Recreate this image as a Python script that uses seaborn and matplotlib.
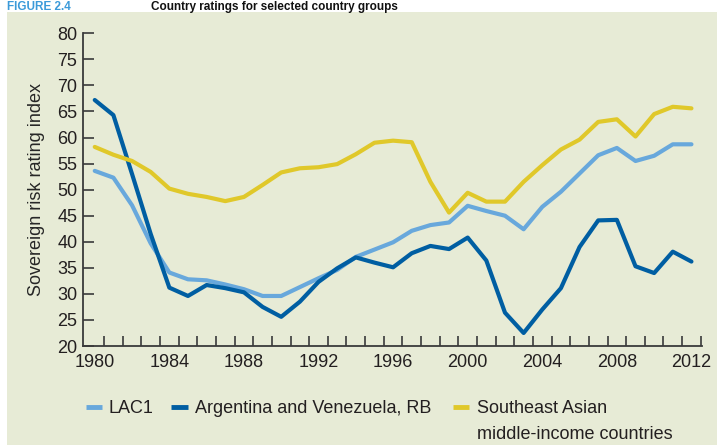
import numpy as np
import pandas as pd
import matplotlib
matplotlib.use("Agg")
import matplotlib.pyplot as plt
from matplotlib.lines import Line2D
from matplotlib.patches import Rectangle
import seaborn as sns

years = list(range(1980, 2013))

lac1 = [53.6, 52.3, 47.0, 39.7, 34.1, 32.8, 32.6, 31.8, 30.9, 29.6, 29.6,
        31.3, 33.0, 34.6, 37.1, 38.5, 39.9, 42.1, 43.2, 43.7, 46.9, 45.9,
        45.0, 42.4, 46.7, 49.6, 53.1, 56.6, 58.0, 55.5, 56.5, 58.7, 58.7]

arg_ven = [67.2, 64.3, 53.0, 41.5, 31.2, 29.6, 31.7, 31.1, 30.3, 27.5, 25.6,
           28.5, 32.3, 34.9, 37.0, 36.0, 35.1, 37.8, 39.2, 38.6, 40.8, 36.4,
           26.4, 22.5, 27.0, 31.1, 39.0, 44.1, 44.2, 35.3, 34.0, 38.1, 36.2]

se_asia = [58.2, 56.7, 55.5, 53.4, 50.2, 49.2, 48.6, 47.8, 48.6, 50.9, 53.3,
           54.1, 54.3, 54.9, 56.8, 59.0, 59.4, 59.1, 51.5, 45.6, 49.4, 47.7,
           47.7, 51.5, 54.7, 57.7, 59.6, 63.0, 63.5, 60.2, 64.5, 65.9, 65.6]

series_names = ["LAC1", "Argentina and Venezuela, RB",
                "Southeast Asian\nmiddle-income countries"]
colors = ["#68A8DC", "#005EA2", "#E0C82A"]
bg = "#E7EBD6"

df = pd.DataFrame({"year": years * 3,
                   "value": lac1 + arg_ven + se_asia,
                   "series": [series_names[0]] * 33 + [series_names[1]] * 33 + [series_names[2]] * 33})

sns.set_theme(style="ticks")
plt.rcParams["font.family"] = ["Liberation Sans", "DejaVu Sans"]
plt.rcParams["text.color"] = "#231F20"

fig = plt.figure(figsize=(7.17, 4.48), dpi=100)
fig.patch.set_facecolor("white")
# beige panel behind the chart
fig.add_artist(Rectangle((7 / 717, 1 - 445 / 448), 1 - 7 / 717, (445 - 12) / 448,
                         transform=fig.transFigure, facecolor=bg, edgecolor="none", zorder=-10))

ax = fig.add_axes([83 / 717, 1 - 346 / 448, (701.7 - 83) / 717, (346 - 33.3) / 448])
ax.set_facecolor("none")

sns.lineplot(data=df, x="year", y="value", hue="series", palette=colors,
             linewidth=3, legend=False, ax=ax)

ax.set_xlim(1979.37, 2012.55)
ax.set_ylim(20, 80)
ax.set_yticks(range(20, 81, 5))
ax.set_xticks(range(1980, 2013, 4))
ax.set_xticks(np.arange(1980.5, 2013, 1), minor=True)
ax.tick_params(axis="x", which="major", length=0, labelsize=13, pad=6, colors="#231F20")
ax.tick_params(axis="x", which="minor", direction="in", length=7, width=1.2, color="#3a3a3a")
ax.tick_params(axis="y", direction="in", length=8, width=1.2, color="#3a3a3a", labelsize=13, pad=4,
               labelcolor="#231F20")
for s in ["top", "right"]:
    ax.spines[s].set_visible(False)
for s in ["left", "bottom"]:
    ax.spines[s].set_color("#3a3a3a")
    ax.spines[s].set_linewidth(1.3)
ax.set_xlabel("")
ax.set_ylabel("Sovereign risk rating index", fontsize=13, labelpad=9)

# legend drawn by hand
leg_x = [(86, 102, 109), (171, 188, 195), (453, 469, 477)]
for (x0, x1, tx), name, c in zip(leg_x, series_names, colors):
    fig.add_artist(Line2D([x0 / 717, x1 / 717], [1 - 407 / 448] * 2, color=c, linewidth=3.5,
                          solid_capstyle="butt", transform=fig.transFigure))
    fig.text(tx / 717, 1 - 413 / 448, name.split("\n")[0], fontsize=13, va="baseline")
fig.text(477 / 717, 1 - 439 / 448, "middle-income countries", fontsize=13, va="baseline")

# title in the white strip above the panel
fig.text(7 / 717, 1 - 10 / 448, "FIGURE 2.4", fontsize=8.5, fontweight="bold", color="#3B9AD9",
         va="baseline")
fig.text(151 / 717, 1 - 10 / 448, "Country ratings for selected country groups", fontsize=8.5,
         fontweight="bold", va="baseline", color="#111111")

fig.savefig("out.png", dpi=100)
